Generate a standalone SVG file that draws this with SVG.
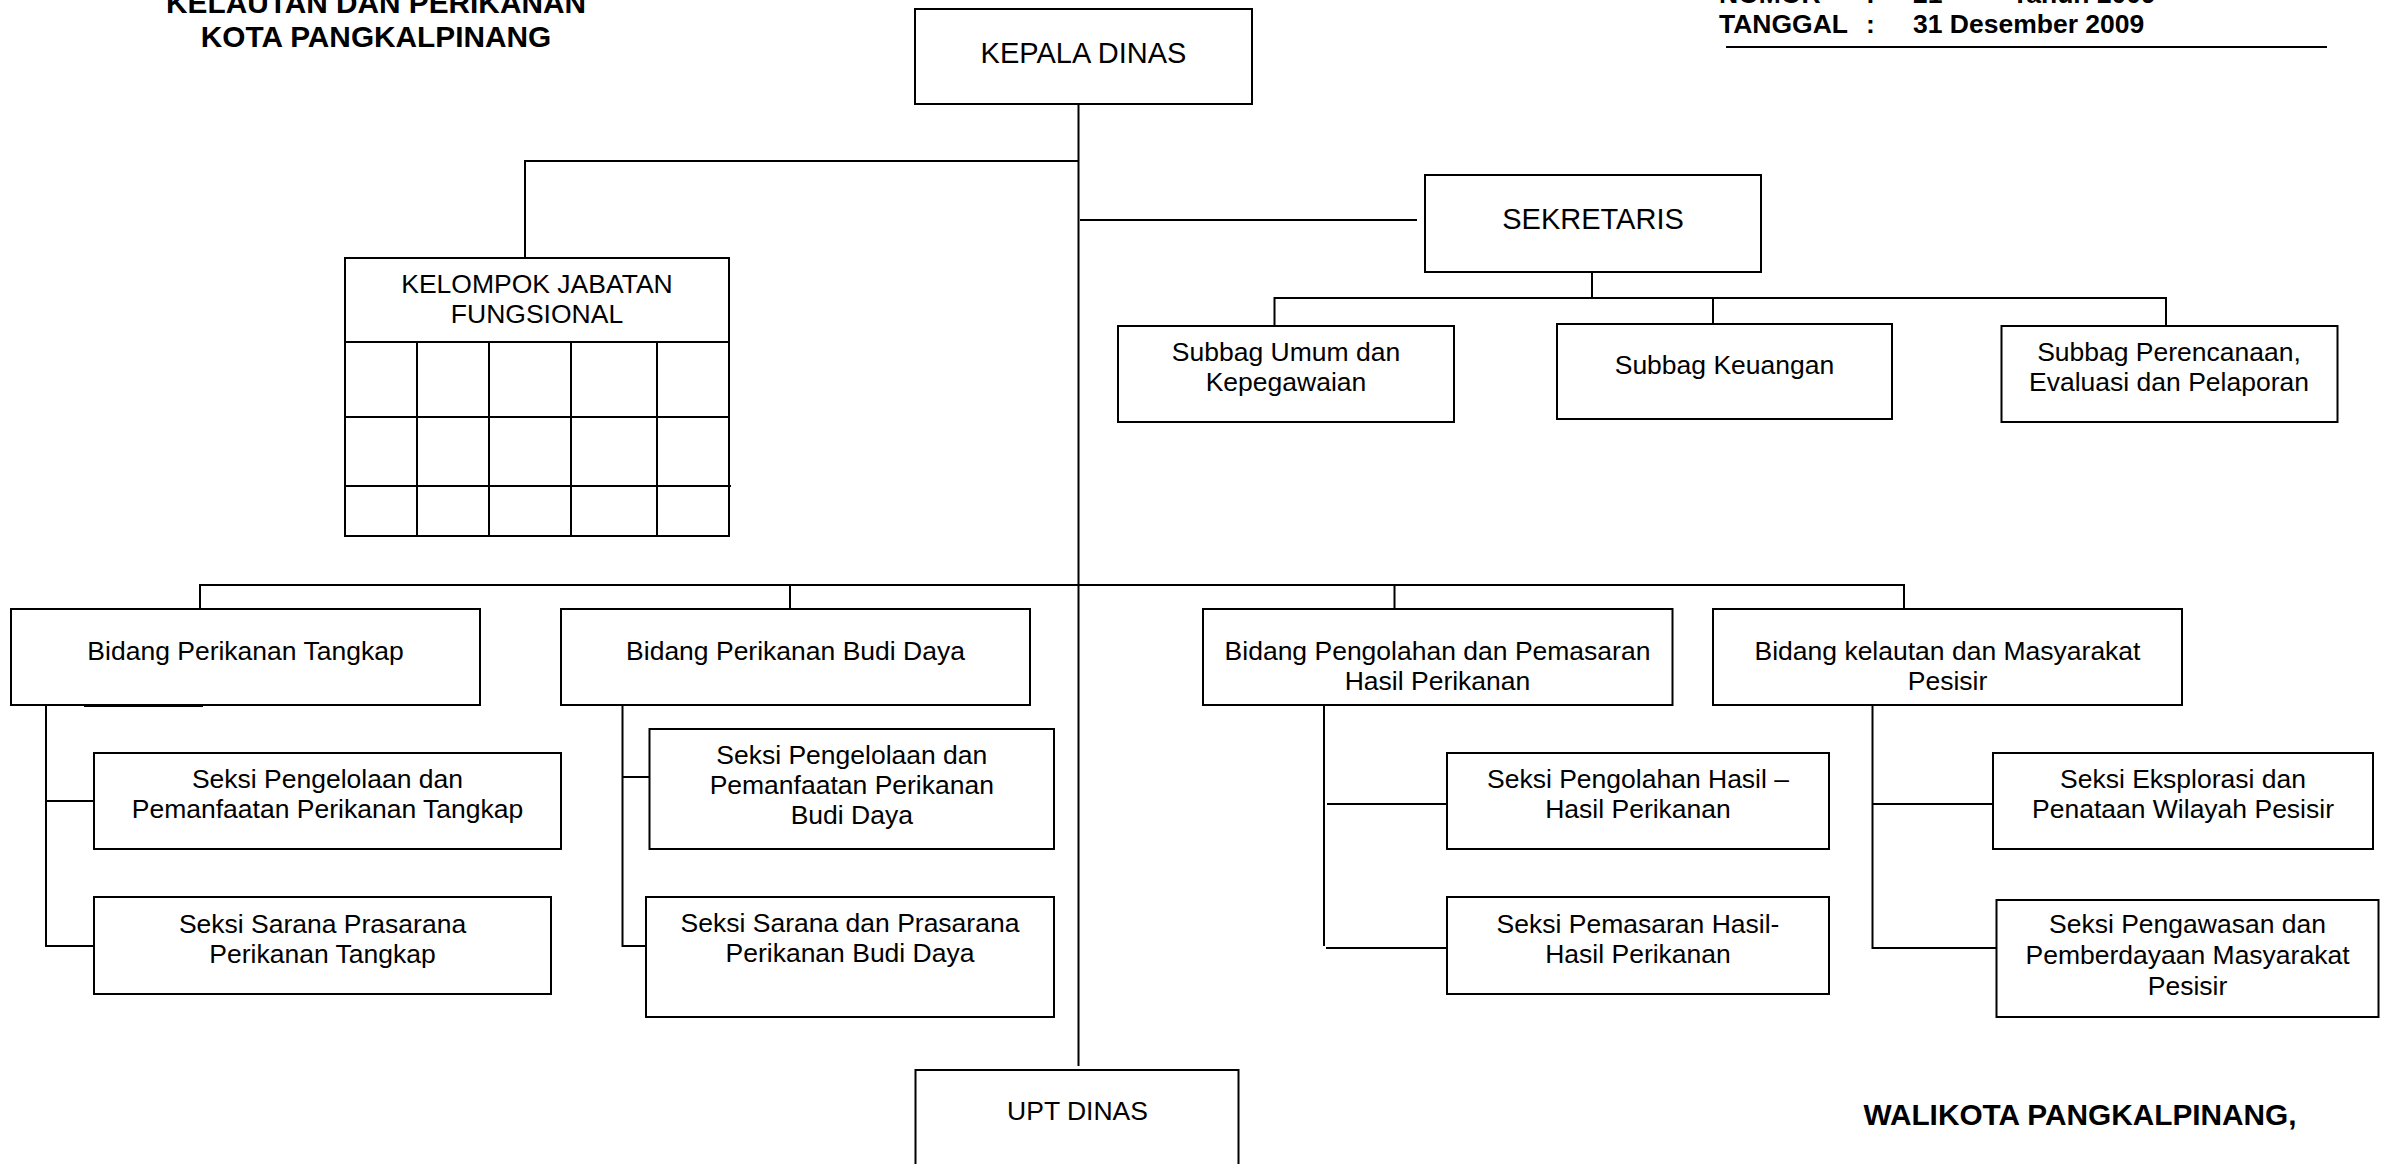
<svg xmlns="http://www.w3.org/2000/svg" width="2391" height="1164" viewBox="0 0 2391 1164">
<style>
rect.box{fill:#fff;stroke:#000;stroke-width:2}
.c line,.c path{stroke:#000;stroke-width:2;fill:none}
text{font-family:"Liberation Sans",Arial,sans-serif;fill:#000}
.t{font-size:26.5px;text-anchor:middle}
.big{font-size:29px;text-anchor:middle}
.hb{font-size:29.8px;font-weight:bold;text-anchor:middle}
.hr{font-size:26.5px;font-weight:bold}
</style>
<rect width="2391" height="1164" fill="#fff"/>
<g id="header">
<text class="hb" x="376" y="13">KELAUTAN DAN PERIKANAN</text>
<text class="hb" x="376" y="47">KOTA PANGKALPINANG</text>
<text class="hr" x="1719" y="3">NOMOR</text>
<text class="hr" x="1866" y="3">:</text>
<text class="hr" x="1913" y="3">21</text>
<text class="hr" x="2012" y="3">Tahun 2009</text>
<text class="hr" x="1719" y="33">TANGGAL</text>
<text class="hr" x="1866" y="33">:</text>
<text class="hr" x="1913" y="33">31 Desember 2009</text>
<line x1="1726" y1="47" x2="2327" y2="47" stroke="#000" stroke-width="2.2"/>
</g>
<g class="c" id="connectors">
<line x1="1078.5" y1="104" x2="1078.5" y2="1066"/>
<path d="M1078.5 161H525V258"/>
<line x1="1080" y1="220" x2="1417" y2="220"/>
<line x1="1592" y1="272" x2="1592" y2="298"/>
<path d="M1274.5 326V298H2166V326"/>
<line x1="1713" y1="298" x2="1713" y2="324"/>
<path d="M200 609V585H1904V609"/>
<line x1="790" y1="585" x2="790" y2="609"/>
<line x1="1394.5" y1="585" x2="1394.5" y2="609"/>
<path d="M46 705V946H94"/>
<line x1="46" y1="801" x2="94" y2="801"/>
<line x1="84" y1="706" x2="203" y2="706" stroke-width="3"/>
<path d="M622.5 705V946H646"/>
<line x1="622.5" y1="777" x2="649.5" y2="777"/>
<line x1="1324" y1="705" x2="1324" y2="946"/>
<line x1="1327" y1="804" x2="1447" y2="804"/>
<line x1="1326" y1="948" x2="1447" y2="948"/>
<path d="M1872.5 705V948H1996.5"/>
<line x1="1872.5" y1="804" x2="1993" y2="804"/>
</g>
<g id="kepala-dinas">
<rect class="box" x="915" y="9" width="337" height="95"/>
<text class="big" x="1083.5" y="63">KEPALA DINAS</text>
</g>
<g id="kelompok-jabatan">
<rect class="box" x="345" y="258" width="384" height="278"/>
<g stroke="#000" stroke-width="2">
<line x1="345" y1="342" x2="729" y2="342"/>
<line x1="345" y1="417" x2="729" y2="417"/>
<line x1="345" y1="486" x2="731" y2="486"/>
<line x1="417" y1="342" x2="417" y2="536"/>
<line x1="489" y1="342" x2="489" y2="536"/>
<line x1="571" y1="342" x2="571" y2="536"/>
<line x1="657" y1="342" x2="657" y2="536"/>
</g>
<text class="t" x="537" y="293">KELOMPOK JABATAN</text>
<text class="t" x="537" y="323">FUNGSIONAL</text>
</g>
<g id="sekretaris">
<rect class="box" x="1425" y="175" width="336" height="97"/>
<text class="big" x="1593" y="229">SEKRETARIS</text>
</g>
<g id="subbag-umum">
<rect class="box" x="1118" y="326" width="336" height="96"/>
<text class="t" x="1286" y="361">Subbag Umum dan</text>
<text class="t" x="1286" y="391">Kepegawaian</text>
</g>
<g id="subbag-keuangan">
<rect class="box" x="1557" y="324" width="335" height="95"/>
<text class="t" x="1724.5" y="374">Subbag Keuangan</text>
</g>
<g id="subbag-perencanaan">
<rect class="box" x="2001.5" y="326" width="336" height="96"/>
<text class="t" x="2169" y="361">Subbag Perencanaan,</text>
<text class="t" x="2169" y="391">Evaluasi dan Pelaporan</text>
</g>
<g id="bidang-tangkap">
<rect class="box" x="11" y="609" width="469" height="96"/>
<text class="t" x="245.5" y="660">Bidang Perikanan Tangkap</text>
</g>
<g id="bidang-budidaya">
<rect class="box" x="561" y="609" width="469" height="96"/>
<text class="t" x="795.5" y="660">Bidang Perikanan Budi Daya</text>
</g>
<g id="bidang-pengolahan">
<rect class="box" x="1203" y="609" width="469.5" height="96"/>
<text class="t" x="1437.5" y="660">Bidang Pengolahan dan Pemasaran</text>
<text class="t" x="1437.5" y="690">Hasil Perikanan</text>
</g>
<g id="bidang-kelautan">
<rect class="box" x="1713" y="609" width="469" height="96"/>
<text class="t" x="1947.5" y="660">Bidang kelautan dan Masyarakat</text>
<text class="t" x="1947.5" y="690">Pesisir</text>
</g>
<g id="seksi-pengelolaan-tangkap">
<rect class="box" x="94" y="753" width="467" height="96"/>
<text class="t" x="327.5" y="788">Seksi Pengelolaan dan</text>
<text class="t" x="327.5" y="818">Pemanfaatan Perikanan Tangkap</text>
</g>
<g id="seksi-sarana-tangkap">
<rect class="box" x="94" y="897" width="457" height="97"/>
<text class="t" x="322.5" y="933">Seksi Sarana Prasarana</text>
<text class="t" x="322.5" y="963">Perikanan Tangkap</text>
</g>
<g id="seksi-pengelolaan-budidaya">
<rect class="box" x="649.5" y="729" width="404.5" height="120"/>
<text class="t" x="851.8" y="764">Seksi Pengelolaan dan</text>
<text class="t" x="851.8" y="794">Pemanfaatan Perikanan</text>
<text class="t" x="851.8" y="824">Budi Daya</text>
</g>
<g id="seksi-sarana-budidaya">
<rect class="box" x="646" y="897" width="408" height="120"/>
<text class="t" x="850" y="932">Seksi Sarana dan Prasarana</text>
<text class="t" x="850" y="962">Perikanan Budi Daya</text>
</g>
<g id="seksi-pengolahan-hasil">
<rect class="box" x="1447" y="753" width="382" height="96"/>
<text class="t" x="1638" y="788">Seksi Pengolahan Hasil –</text>
<text class="t" x="1638" y="818">Hasil Perikanan</text>
</g>
<g id="seksi-pemasaran-hasil">
<rect class="box" x="1447" y="897" width="382" height="97"/>
<text class="t" x="1638" y="933">Seksi Pemasaran Hasil-</text>
<text class="t" x="1638" y="963">Hasil Perikanan</text>
</g>
<g id="seksi-eksplorasi">
<rect class="box" x="1993" y="753" width="380" height="96"/>
<text class="t" x="2183" y="788">Seksi Eksplorasi dan</text>
<text class="t" x="2183" y="818">Penataan Wilayah Pesisir</text>
</g>
<g id="seksi-pengawasan">
<rect class="box" x="1996.5" y="900" width="382" height="117"/>
<text class="t" x="2187.5" y="933">Seksi Pengawasan dan</text>
<text class="t" x="2187.5" y="964">Pemberdayaan Masyarakat</text>
<text class="t" x="2187.5" y="995">Pesisir</text>
</g>
<g id="upt-dinas">
<rect class="box" x="915.5" y="1070" width="323" height="110"/>
<text class="t" x="1077.5" y="1120">UPT DINAS</text>
</g>
<g id="footer">
<text class="hb" x="2080" y="1125">WALIKOTA PANGKALPINANG,</text>
</g>
</svg>
